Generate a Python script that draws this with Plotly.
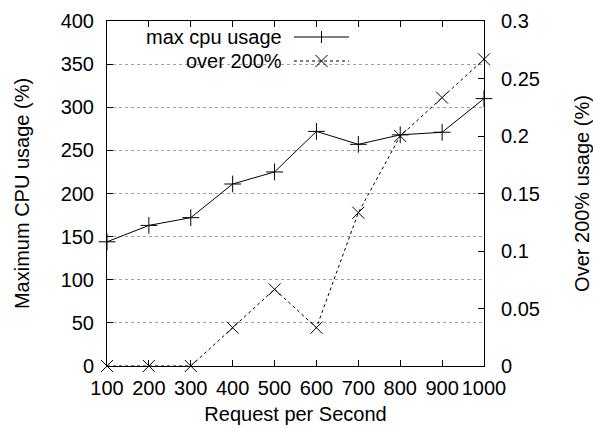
import plotly.graph_objects as go

rps = [100, 200, 300, 400, 500, 600, 700, 800, 900, 1000]
max_cpu = [144, 163, 172, 211, 225, 272, 257, 268, 271, 310]
over_200 = [0, 0, 0, 0.0333, 0.0667, 0.0333, 0.1333, 0.2, 0.2333, 0.2667]
x_ticks = [100, 200, 300, 400, 500, 600, 700, 800, 900, 1000]
y_ticks = [0, 50, 100, 150, 200, 250, 300, 350, 400]
y2_ticks = [0, 0.05, 0.1, 0.15, 0.2, 0.25, 0.3]
y2_labels = ["0", "0.05", "0.1", "0.15", "0.2", "0.25", "0.3"]
legend_names = ["max cpu usage", "over 200%"]

FONT = "Liberation Sans, Arial, sans-serif"
FS = 20

fig = go.Figure()
fig.add_trace(go.Scatter(
    x=rps, y=max_cpu, mode="lines+markers", name=legend_names[0],
    line=dict(color="black", width=1),
    marker=dict(symbol="cross-thin-open", size=12, line=dict(color="black", width=1)),
    showlegend=False, cliponaxis=False))
fig.add_trace(go.Scatter(
    x=rps, y=over_200, mode="lines+markers", name=legend_names[1], yaxis="y2",
    line=dict(color="black", width=1, dash="dot"),
    marker=dict(symbol="x-thin-open", size=12, line=dict(color="black", width=1)),
    showlegend=False, cliponaxis=False))

# gnuplot-style key: text right-aligned, sample to its right
L, R, T, B = 107, 484, 21, 366
W, H = 593, 428
def px(x):
    return (x - L) / (R - L)
def py(y):
    return (B - y) / (B - T)

shapes = [
    dict(type="rect", xref="paper", yref="paper", x0=px(L + 1), x1=px(362),
         y0=py(74), y1=py(T + 1), fillcolor="white", line=dict(width=0), layer="between"),
]
rows = [37, 61]
dashes = ["solid", "dot"]
for i, yy in enumerate(rows):
    shapes.append(dict(type="line", xref="paper", yref="paper", x0=px(294), x1=px(349),
                       y0=py(yy), y1=py(yy), line=dict(color="black", width=1, dash=dashes[i])))
    cx, cy, s = 321.5, yy, 6
    if i == 0:
        shapes.append(dict(type="line", xref="paper", yref="paper", x0=px(cx), x1=px(cx),
                           y0=py(cy - s), y1=py(cy + s), line=dict(color="black", width=1)))
    else:
        shapes.append(dict(type="line", xref="paper", yref="paper", x0=px(cx - s), x1=px(cx + s),
                           y0=py(cy - s), y1=py(cy + s), line=dict(color="black", width=1)))
        shapes.append(dict(type="line", xref="paper", yref="paper", x0=px(cx - s), x1=px(cx + s),
                           y0=py(cy + s), y1=py(cy - s), line=dict(color="black", width=1)))

annotations = []
for i, yy in enumerate(rows):
    annotations.append(dict(xref="paper", yref="paper", x=px(284), y=py(yy), xanchor="right",
                            yanchor="middle", text=legend_names[i], showarrow=False,
                            font=dict(family=FONT, size=FS, color="black")))

axis_common = dict(
    ticks="inside", ticklen=6, tickcolor="black", showline=True, linecolor="black",
    linewidth=1, tickfont=dict(family=FONT, size=FS, color="black"), zeroline=False,
    automargin=False,
)

fig.update_layout(
    width=W, height=H,
    margin=dict(l=L, r=W - R, t=T, b=H - B, autoexpand=False),
    paper_bgcolor="white", plot_bgcolor="white",
    font=dict(family=FONT, size=FS, color="black"),
    xaxis=dict(range=[100, 1000], tickvals=x_ticks, mirror="ticks", showgrid=False,
               ticklabelstandoff=4,
               title=dict(text="Request per Second", standoff=8,
                          font=dict(family=FONT, size=FS, color="black")),
               **axis_common),
    yaxis=dict(range=[0, 400], tickvals=y_ticks, showgrid=True, gridcolor="#a0a0a0",
               griddash="dot", gridwidth=1, ticklabelstandoff=8,
               title=dict(text="Maximum CPU usage (%)", standoff=25,
                          font=dict(family=FONT, size=FS, color="black")),
               **axis_common),
    yaxis2=dict(range=[0, 0.3], tickvals=y2_ticks, ticktext=y2_labels, overlaying="y",
                side="right", showgrid=False, ticklabelstandoff=12,
                title=dict(text="Over 200% usage (%)", standoff=42,
                           font=dict(family=FONT, size=FS, color="black")),
                **axis_common),
    shapes=shapes, annotations=annotations, showlegend=False,
)

fig.write_html("out.html", config={"displayModeBar": False},
               post_script="document.body.style.margin='0';")
